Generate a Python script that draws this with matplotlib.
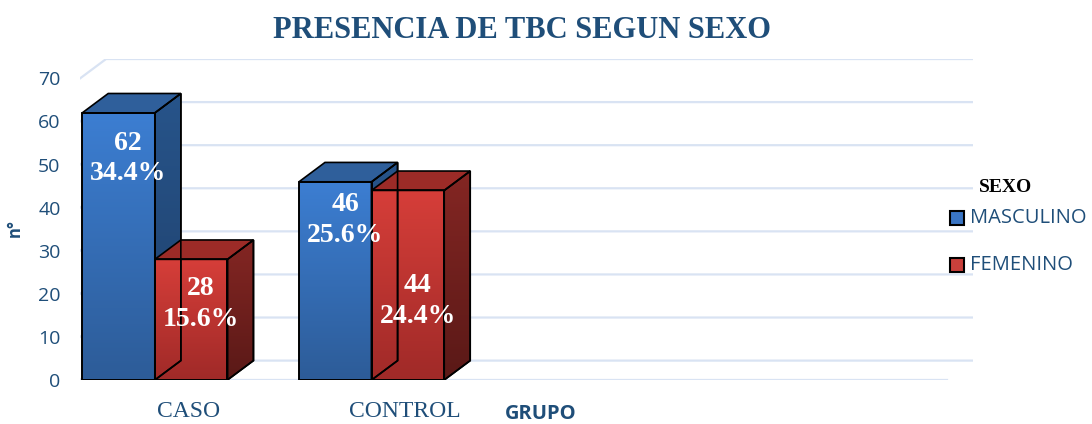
import numpy as np
import matplotlib
matplotlib.use('Agg')
import matplotlib.pyplot as plt
from matplotlib.patches import Polygon, Rectangle
from matplotlib.colors import LinearSegmentedColormap

# data
categories = ['CASO', 'CONTROL']
series = ['MASCULINO', 'FEMENINO']
masculino = [62, 46]
femenino = [28, 44]
masculino_pct = ['34.4%', '25.6%']
femenino_pct = ['15.6%', '24.4%']
yticks = [0, 10, 20, 30, 40, 50, 60, 70]

# styling
n_slots = 4          # plot area leaves room for 4 category slots
bar_w = 0.335
dx, dy = 0.12, 4.5   # fake 3d depth
grid_col = '#D9E3F3'
txt_col = '#1F4E79'
styles = {
    'MASCULINO': dict(front=('#3C7ED2', '#2D5C98'), top='#2F5F9B',
                      side=('#27548A', '#1F406B'), legend='#3A75C4'),
    'FEMENINO': dict(front=('#D63E39', '#A02A28'), top='#9C2B27',
                     side=('#842623', '#5A1917'), legend='#C9403B'),
}
# vertical placement of the two-line labels (distance below bar top)
label_drop = {'MASCULINO': [10.6, 8.9], 'FEMENINO': [10.4, 25.6]}

fig = plt.figure(figsize=(10.92, 4.24), dpi=100)
ax = fig.add_axes([0.0733, 0.1038, 0.8178, 0.757])
xmin, xmax = -0.5, n_slots - 0.5 + dx
ymax = yticks[-1] + dy


def grad_fill(ax, poly, c_top, c_bot, ext):
    cmap = LinearSegmentedColormap.from_list('g', [c_top, c_bot])
    g = np.linspace(0, 1, 128).reshape(-1, 1)
    im = ax.imshow(g, cmap=cmap, extent=ext, aspect='auto', zorder=3,
                   origin='upper', interpolation='bilinear')
    im.set_clip_path(poly)


def bar3d(ax, x0, h, st):
    x1 = x0 + bar_w
    front = Rectangle((x0, 0), bar_w, h, facecolor='none', edgecolor='black',
                      lw=1.2, zorder=4)
    ax.add_patch(front)
    grad_fill(ax, front, st['front'][0], st['front'][1], [x0, x1, 0, h])
    side = Polygon([(x1, 0), (x1 + dx, dy), (x1 + dx, h + dy), (x1, h)],
                   closed=True, facecolor='none', edgecolor='black', lw=1.2, zorder=4)
    ax.add_patch(side)
    grad_fill(ax, side, st['side'][0], st['side'][1], [x1, x1 + dx, 0, h + dy])
    top = Polygon([(x0, h), (x1, h), (x1 + dx, h + dy), (x0 + dx, h + dy)],
                  closed=True, facecolor=st['top'], edgecolor='black', lw=1.2, zorder=4)
    ax.add_patch(top)
    # re-stroke outlines over the gradient images
    ax.add_patch(Rectangle((x0, 0), bar_w, h, facecolor='none',
                           edgecolor='black', lw=1.2, zorder=5))
    ax.add_patch(Polygon([(x1, 0), (x1 + dx, dy), (x1 + dx, h + dy), (x1, h)],
                         closed=True, facecolor='none', edgecolor='black', lw=1.2, zorder=5))


# back wall grid + floor
for v in yticks:
    ax.plot([xmin, xmin + dx, xmax], [v, v + dy, v + dy], color=grid_col, lw=1.6, zorder=1)
ax.plot([xmin, n_slots - 0.5], [0, 0], color=grid_col, lw=1.6, zorder=1)

offsets = {'MASCULINO': -0.49, 'FEMENINO': -0.155}
for s, vals, pcts in [('MASCULINO', masculino, masculino_pct),
                      ('FEMENINO', femenino, femenino_pct)]:
    for i, (v, p) in enumerate(zip(vals, pcts)):
        x0 = i + offsets[s]
        bar3d(ax, x0, v, styles[s])
        ax.text(x0 + bar_w / 2 + 0.045, v - label_drop[s][i], '%d\n%s' % (v, p),
                ha='center', va='center', color='white', fontsize=20,
                fontweight='bold', family='Liberation Serif', linespacing=1.3,
                zorder=6)

ax.set_xlim(xmin, xmax)
ax.set_ylim(0, ymax)
for sp in ax.spines.values():
    sp.set_visible(False)
ax.set_yticks(yticks)
ax.set_yticklabels([str(t) for t in yticks], family='Open Sans', fontsize=14, color=txt_col)
ax.set_xticks(range(len(categories)))
ax.set_xticklabels(categories, family='Liberation Serif', fontsize=17, color=txt_col)
ax.tick_params(axis='y', length=0, pad=14)
ax.tick_params(axis='x', length=0, pad=15)

fig.text(522 / 1092, 1 - 31 / 424, 'PRESENCIA DE TBC SEGUN SEXO', ha='center', va='center',
         family='Liberation Serif', fontweight='bold', fontsize=22, color=txt_col)
fig.text(541 / 1092, 1 - 414 / 424, 'GRUPO', ha='center', va='center',
         family='Open Sans', fontweight='bold', fontsize=14.5, color=txt_col)
fig.text(15 / 1092, 1 - 228 / 424, 'n°', ha='center', va='center', rotation=90,
         family='Open Sans', fontweight='bold', fontsize=12, color=txt_col)

# legend
fig.text(1006 / 1092, 1 - 187 / 424, 'SEXO', ha='center', va='center',
         family='Liberation Serif', fontweight='bold', fontsize=14, color='black')
for k, (s, yy) in enumerate(zip(series, [218, 265])):
    fig.patches.append(Rectangle((950 / 1092, 1 - (yy + 7) / 424), 14 / 1092, 14 / 424,
                                 transform=fig.transFigure, facecolor=styles[s]['legend'],
                                 edgecolor='black', lw=1.5))
    fig.text(970 / 1092, 1 - yy / 424, s, ha='left', va='center',
             family='Open Sans', fontsize=14.5, color=txt_col)

fig.savefig('out.png', dpi=100)
